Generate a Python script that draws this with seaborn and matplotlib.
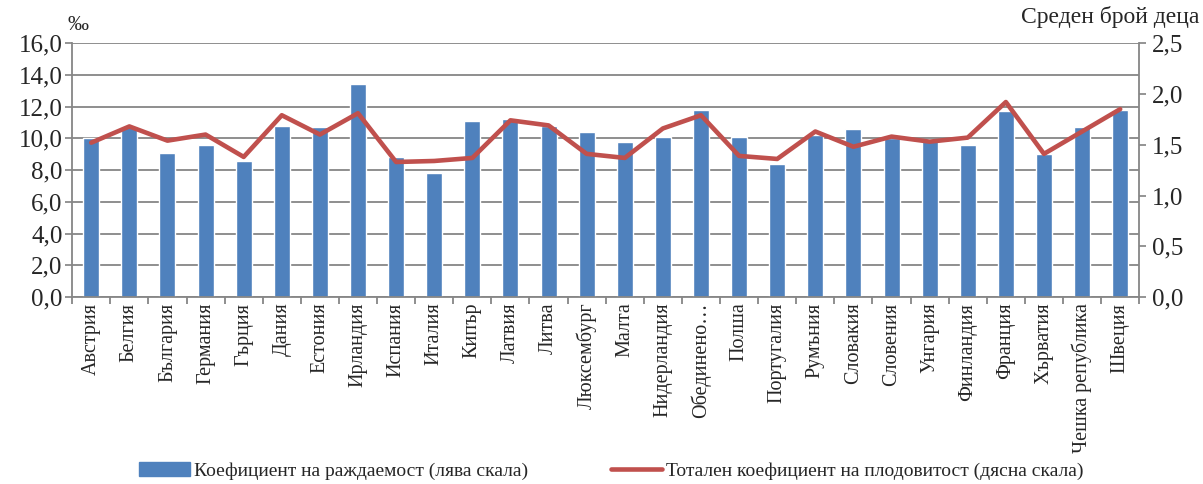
import numpy as np
import pandas as pd
import matplotlib
matplotlib.use("Agg")
import matplotlib.pyplot as plt
from matplotlib.ticker import MultipleLocator, FuncFormatter
from matplotlib.patches import Patch
from matplotlib.lines import Line2D
import seaborn as sns

sns.set_theme(style="white")
plt.rcParams['font.family'] = ['Liberation Serif', 'DejaVu Serif']

countries = ['Австрия', 'Белгия', 'България', 'Германия', 'Гърция', 'Дания', 'Естония',
             'Ирландия', 'Испания', 'Италия', 'Кипър', 'Латвия', 'Литва', 'Люксембург',
             'Малта', 'Нидерландия', 'Обединено…', 'Полша', 'Португалия', 'Румъния',
             'Словакия', 'Словения', 'Унгария', 'Финландия', 'Франция', 'Хърватия',
             'Чешка република', 'Швеция']
birth_rate = [10.0, 10.8, 9.1, 9.6, 8.6, 10.8, 10.7, 13.4, 8.8, 7.8, 11.1, 11.2, 10.8, 10.4,
              9.8, 10.1, 11.8, 10.1, 8.4, 10.2, 10.6, 10.0, 9.9, 9.6, 11.7, 9.0, 10.7, 11.8]
fertility = [1.52, 1.68, 1.54, 1.60, 1.38, 1.79, 1.60, 1.81, 1.33, 1.34, 1.37, 1.74, 1.69, 1.41,
             1.37, 1.66, 1.79, 1.39, 1.36, 1.63, 1.48, 1.58, 1.53, 1.57, 1.92, 1.41, 1.63, 1.85]

df = pd.DataFrame({'country': countries, 'birth': birth_rate, 'tfr': fertility})
df['pos'] = np.arange(len(df))

blue = '#4F81BD'
red = '#C0504D'
grid_c = '#868686'
comma = FuncFormatter(lambda v, p: f"{v:.1f}".replace('.', ','))

fig = plt.figure(figsize=(12.03, 4.84), dpi=100)
ax = fig.add_axes([0.06, 0.386, 0.887, 0.525])

sns.barplot(data=df, x='country', y='birth', color=blue, width=0.42, saturation=1, ax=ax)
ax.set_ylim(0, 16)
ax.set_xlim(-0.5, len(df) - 0.5)
ax.yaxis.set_major_locator(MultipleLocator(2))
ax.yaxis.set_major_formatter(comma)
ax.grid(axis='y', color=grid_c, linewidth=1.3)
ax.set_axisbelow(True)
ax.set_xlabel('')
ax.set_ylabel('')
ax.tick_params(axis='y', labelsize=18, length=5, color=grid_c, left=True, pad=2)
ax.tick_params(axis='x', which='major', labelsize=14.5, rotation=90, length=0, pad=4)
ax.set_xticks(np.arange(len(df) + 1) - 0.5, minor=True)
ax.tick_params(axis='x', which='minor', length=5, color=grid_c, bottom=True, width=1.3)
for s in ['left', 'bottom', 'right']:
    ax.spines[s].set_color(grid_c)
    ax.spines[s].set_linewidth(1.3)
ax.spines['top'].set_visible(False)

ax2 = ax.twinx()
sns.lineplot(data=df, x='pos', y='tfr', color=red, linewidth=3.3, ax=ax2)
ax2.set_ylim(0, 2.5)
ax2.yaxis.set_major_locator(MultipleLocator(0.5))
ax2.yaxis.set_major_formatter(comma)
ax2.set_ylabel('')
ax2.set_xlabel('')
ax2.tick_params(axis='y', labelsize=18, length=5, color=grid_c, right=True, pad=4)
for s in ['left', 'bottom', 'right', 'top']:
    ax2.spines[s].set_visible(False)
ax2.grid(False)

fig.text(0.056, 0.947, '‰', fontsize=15, ha='left', va='center')
fig.text(0.997, 0.965, 'Среден брой деца', fontsize=17, ha='right', va='center')

handles = [Patch(color=blue), Line2D([0], [0], color=red, linewidth=3.3)]
labels = ['Коефициент на раждаемост (лява скала)', 'Тотален коефициент на плодовитост (дясна скала)']
fig.legend(handles, labels, loc='center', bbox_to_anchor=(0.508, 0.027), ncol=2, frameon=False,
           fontsize=14, columnspacing=4.3, handlelength=2.6, handletextpad=0.2)

fig.savefig('out.png', dpi=100)
